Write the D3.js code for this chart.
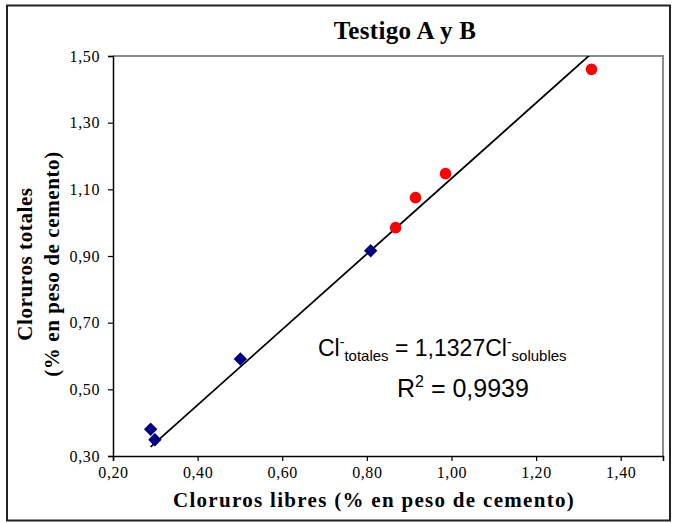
<!DOCTYPE html>
<html>
<head>
<meta charset="utf-8">
<title>Testigo A y B</title>
<style>
  body { margin: 0; background: #fff; }
  svg text { font-family: "Liberation Serif", "Times New Roman", serif; }
</style>
</head>
<body>
<script src="https://d3js.org/d3.v7.min.js"></script>
<script>
// Testigo A (blue diamonds) and B (red circles)
const testigoAx = [0.289, 0.299, 0.501, 0.809];
const testigoAy = [0.380, 0.349, 0.591, 0.916];
const testigoBx = [0.868, 0.915, 0.986, 1.331];
const testigoBy = [0.985, 1.075, 1.147, 1.460];
const slope = 1.1327;
const xTicks = [0.2, 0.4, 0.6, 0.8, 1.0, 1.2, 1.4];
const yTicks = [0.3, 0.5, 0.7, 0.9, 1.1, 1.3, 1.5];

const W = 675, H = 523;
const margin = {left: 113, right: 12, top: 56, bottom: 67};

const svg = d3.select('body').append('svg')
    .attr('width', W)
    .attr('height', H);

// outer frame
svg.append('rect')
    .attr('x', 7).attr('y', 5.5)
    .attr('width', 663).attr('height', 515)
    .attr('fill', 'none')
    .attr('stroke', '#222')
    .attr('stroke-width', 2);

const x = d3.scaleLinear().domain([0.2, 1.5]).range([margin.left, W - margin.right]);
const y = d3.scaleLinear().domain([0.3, 1.5]).range([H - margin.bottom, margin.top]);

// grey top/right border of plot area
svg.append('path')
    .attr('d', `M${x(0.2)},${y(1.5)}H${x(1.5)}V${y(0.3)}`)
    .attr('fill', 'none')
    .attr('stroke', '#8c8c8c')
    .attr('stroke-width', 2);

const fmt = d => d3.format('.2f')(d).replace('.', ',');

const xAxis = svg.append('g')
    .attr('transform', `translate(0,${y(0.3)})`)
    .call(d3.axisBottom(x).tickValues(xTicks).tickSize(5).tickPadding(6).tickFormat(fmt));
const yAxis = svg.append('g')
    .attr('transform', `translate(${x(0.2)},0)`)
    .call(d3.axisLeft(y).tickValues(yTicks).tickSize(5).tickPadding(8).tickFormat(fmt));

[xAxis, yAxis].forEach(a => {
    a.attr('font-family', null);
    a.select('.domain').attr('stroke', '#000').attr('stroke-width', 1.5);
    a.selectAll('.tick line').attr('stroke', '#000').attr('stroke-width', 1.2);
    a.selectAll('.tick text')
        .attr('fill', '#000')
        .style('font-family', '"Liberation Serif", "Times New Roman", serif')
        .style('font-size', '16px')
        .style('letter-spacing', '0.6px');
});

// clip for trend line
svg.append('clipPath').attr('id', 'plotclip')
    .append('rect')
    .attr('x', x(0.2)).attr('y', y(1.5))
    .attr('width', x(1.5) - x(0.2)).attr('height', y(0.3) - y(1.5));

const xMin = d3.min(testigoAx.concat(testigoBx));
const xMax = d3.max(testigoAx.concat(testigoBx));
svg.append('line')
    .attr('clip-path', 'url(#plotclip)')
    .attr('x1', x(xMin)).attr('y1', y(slope * xMin))
    .attr('x2', x(xMax)).attr('y2', y(slope * xMax))
    .attr('stroke', '#000')
    .attr('stroke-width', 1.8);

// points
const diamond = d3.symbol().type(d3.symbolDiamond2).size(115);
svg.selectAll('.ptA')
    .data(testigoAx.map((v, i) => [v, testigoAy[i]]))
    .enter().append('path')
    .attr('class', 'ptA')
    .attr('transform', d => `translate(${x(d[0])},${y(d[1])})`)
    .attr('d', diamond)
    .attr('fill', '#000080');

svg.selectAll('.ptB')
    .data(testigoBx.map((v, i) => [v, testigoBy[i]]))
    .enter().append('circle')
    .attr('class', 'ptB')
    .attr('cx', d => x(d[0]))
    .attr('cy', d => y(d[1]))
    .attr('r', 5.8)
    .attr('fill', '#ff0000');

// titles
svg.append('text')
    .attr('x', 405).attr('y', 39)
    .attr('text-anchor', 'middle')
    .style('font-size', '25px')
    .style('font-weight', 'bold')
    .style('letter-spacing', '0.3px')
    .text('Testigo A y B');

svg.append('text')
    .attr('x', 374).attr('y', 507)
    .attr('text-anchor', 'middle')
    .style('font-size', '21px')
    .style('font-weight', 'bold')
    .style('letter-spacing', '1.3px')
    .text('Cloruros libres (% en peso de cemento)');

const yt = svg.append('g').attr('transform', 'translate(32,264) rotate(-90)');
yt.append('text')
    .attr('text-anchor', 'middle')
    .style('font-size', '21px')
    .style('font-weight', 'bold')
    .style('letter-spacing', '0.6px')
    .text('Cloruros totales');
yt.append('text')
    .attr('y', 27)
    .attr('text-anchor', 'middle')
    .style('font-size', '21px')
    .style('font-weight', 'bold')
    .style('letter-spacing', '0.6px')
    .text('(% en peso de cemento)');

// equation
const eq = svg.append('text')
    .attr('x', 318).attr('y', 356)
    .style('font-family', '"Liberation Sans", Arial, sans-serif')
    .style('font-size', '23px');
eq.append('tspan').text('Cl');
eq.append('tspan').attr('dy', -9).style('font-size', '14px').text('-');
eq.append('tspan').attr('dy', 14).style('font-size', '15px').text('totales');
eq.append('tspan').attr('dy', -5).text(' = ' + String(slope).replace('.', ',') + 'Cl');
eq.append('tspan').attr('dy', -9).style('font-size', '14px').text('-');
eq.append('tspan').attr('dy', 14).style('font-size', '15px').text('solubles');

const r2 = svg.append('text')
    .attr('x', 397).attr('y', 397)
    .style('font-family', '"Liberation Sans", Arial, sans-serif')
    .style('font-size', '25px');
r2.append('tspan').text('R');
r2.append('tspan').attr('dy', -10).style('font-size', '16px').text('2');
r2.append('tspan').attr('dy', 10).text(' = 0,9939');
</script>
</body>
</html>
